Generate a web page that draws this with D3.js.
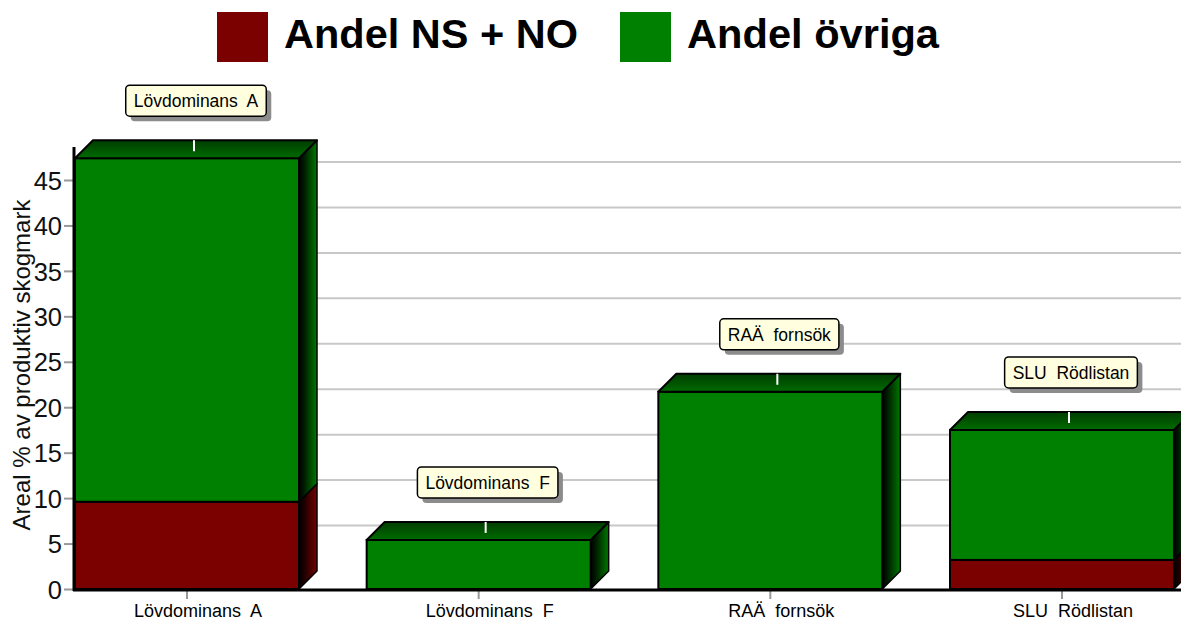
<!DOCTYPE html>
<html><head><meta charset="utf-8">
<script src="https://cdn.jsdelivr.net/npm/d3@7"></script>
<style>
html,body{margin:0;padding:0;background:#fff;}
svg{display:block;font-family:"Liberation Sans",Arial,sans-serif;}
</style></head>
<body>
<svg id="chart" width="1181" height="623"></svg>
<script>
// ---- data ----
const categories = ["Lövdominans  A", "Lövdominans  F", "RAÄ  fornsök", "SLU  Rödlistan"];
const seriesNames = ["Andel NS + NO", "Andel övriga"];
const andelNSNO = [9.6, 0, 0, 3.2];
const andelOvriga = [37.8, 5.4, 21.7, 14.3];
const yTicks = [0, 5, 10, 15, 20, 25, 30, 35, 40, 45];
const yTitle = "Areal % av produktiv skogmark";

const colors = ["#7b0000", "#008000"];
const depth = 18;

const svg = d3.select("#chart");
const defs = svg.append("defs");
function grad(id, x2, y2, stops) {
  const g = defs.append("linearGradient").attr("id", id)
    .attr("x1", 0).attr("y1", 0).attr("x2", x2).attr("y2", y2);
  stops.forEach(s => g.append("stop").attr("offset", s[0]).attr("stop-color", s[1]));
}
grad("sideG", 1, 0, [[0, "#000"], [0.25, "#001800"], [1, "#007800"]]);
grad("topG", 0, 1, [[0, "#003c00"], [1, "#006c00"]]);
grad("sideR", 1, 0, [[0, "#000"], [0.25, "#180000"], [1, "#780000"]]);

const x = d3.scaleBand().domain(categories).range([75, 1174]).paddingInner(0.232).paddingOuter(0);
const y = d3.scaleLinear().domain([0, 45]).range([589, 180]);

// gridlines (back wall)
svg.append("g").selectAll("line").data(yTicks.filter(d => d > 0)).join("line")
  .attr("x1", 74 + depth).attr("x2", 1181)
  .attr("y1", d => y(d) - depth).attr("y2", d => y(d) - depth)
  .attr("stroke", "#c8c8c8").attr("stroke-width", 2);

// bars
const bars = svg.append("g");
categories.forEach((c, i) => {
  const x0 = x(c), x1 = x(c) + x.bandwidth();
  const segs = [
    {v0: 0, v1: andelNSNO[i], fill: colors[0], side: "url(#sideR)"},
    {v0: andelNSNO[i], v1: andelNSNO[i] + andelOvriga[i], fill: colors[1], side: "url(#sideG)"}
  ];
  const g = bars.append("g");
  segs.forEach((s, k) => {
    if (s.v1 - s.v0 <= 0) return;
    const yb = y(s.v0), yt = y(s.v1);
    g.append("polygon")
      .attr("points", [[x1, yb], [x1 + depth, yb - depth], [x1 + depth, yt - depth], [x1, yt]].join(" "))
      .attr("fill", s.side).attr("stroke", "#000").attr("stroke-width", 1.5).attr("stroke-linejoin", "round");
    g.append("rect").attr("x", x0).attr("y", yt).attr("width", x1 - x0).attr("height", yb - yt)
      .attr("fill", s.fill).attr("stroke", "#000").attr("stroke-width", 2);
    if (k === segs.length - 1) {
      g.append("polygon")
        .attr("points", [[x0, yt], [x0 + depth, yt - depth], [x1 + depth, yt - depth], [x1, yt]].join(" "))
        .attr("fill", "url(#topG)").attr("stroke", "#000").attr("stroke-width", 2).attr("stroke-linejoin", "round");
      const cx = x0 + x.bandwidth() / 2 + 7;
      g.append("line").attr("x1", cx).attr("x2", cx).attr("y1", yt - depth).attr("y2", yt - 7)
        .attr("stroke", "#fff").attr("stroke-width", 2);
      // annotation box
      const ag = svg.append("g").attr("class", "annot");
      const acx = x0 + x.bandwidth() / 2 + depth / 2;
      const txt = ag.append("text").attr("x", acx).attr("y", yt - 41 - 10)
        .attr("text-anchor", "middle").attr("font-size", 17.5).style("white-space", "pre").attr("fill", "#000").text(c);
      const w = txt.node().getComputedTextLength() + 16;
      const bx = acx - w / 2, by = yt - 41 - 32;
      ag.insert("rect", "text").attr("x", bx + 5).attr("y", by + 5).attr("width", w).attr("height", 31)
        .attr("rx", 4).attr("fill", "#8c8c8c");
      ag.insert("rect", "text").attr("x", bx).attr("y", by).attr("width", w).attr("height", 31)
        .attr("rx", 4).attr("fill", "#ffffe0").attr("stroke", "#000").attr("stroke-width", 1.5);
    }
  });
});

// y axis
const yAxis = svg.append("g").attr("transform", "translate(74,0)")
  .call(d3.axisLeft(y).tickValues(yTicks).tickSize(10).tickPadding(2));
yAxis.select(".domain").remove();
yAxis.selectAll(".tick line").attr("stroke", "#999").attr("stroke-width", 2);
yAxis.selectAll(".tick text").attr("font-size", 25.5).attr("fill", "#111")
  .attr("font-family", "Liberation Sans, Arial, sans-serif").attr("dy", "0.36em");

// x axis
const xAxis = svg.append("g").attr("transform", "translate(0,590)")
  .call(d3.axisBottom(x).tickSize(9).tickPadding(5));
xAxis.select(".domain").remove();
xAxis.selectAll(".tick line").attr("stroke", "#999").attr("stroke-width", 2);
xAxis.selectAll(".tick text").attr("font-size", 18).attr("fill", "#000").attr("dx", 11)
  .attr("font-family", "Liberation Sans, Arial, sans-serif").style("white-space", "pre");

// axis lines
svg.append("line").attr("x1", 74).attr("x2", 74).attr("y1", 147).attr("y2", 591)
  .attr("stroke", "#000").attr("stroke-width", 3);
svg.append("line").attr("x1", 73).attr("x2", 1181).attr("y1", 590).attr("y2", 590)
  .attr("stroke", "#000").attr("stroke-width", 3);

// y title
svg.append("text").attr("transform", "translate(30,365) rotate(-90)")
  .attr("text-anchor", "middle").attr("font-size", 24).attr("fill", "#111").text(yTitle);

// legend
const legendX = [217, 620];
const legendW = [294, 252];
seriesNames.forEach((n, i) => {
  svg.append("rect").attr("x", legendX[i]).attr("y", 12).attr("width", 51).attr("height", 50).attr("fill", colors[i]);
  svg.append("text").attr("x", legendX[i] + 67).attr("y", 48).attr("font-size", 41).attr("font-weight", "bold")
    .attr("textLength", legendW[i]).attr("lengthAdjust", "spacingAndGlyphs")
    .attr("fill", "#000").text(n);
});
</script>
</body></html>
